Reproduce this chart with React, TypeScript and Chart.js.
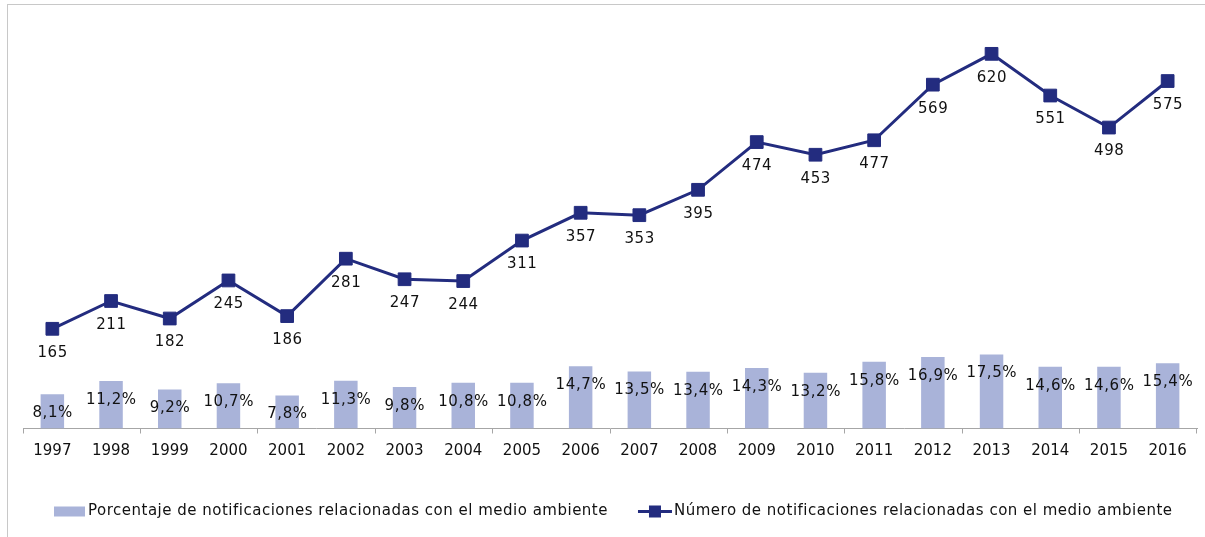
import React, { useEffect, useRef } from "react";
import { Chart, registerables } from "chart.js";

Chart.register(...registerables);

const years = ["1997","1998","1999","2000","2001","2002","2003","2004","2005","2006","2007","2008","2009","2010","2011","2012","2013","2014","2015","2016"];
const percentages = [8.1,11.2,9.2,10.7,7.8,11.3,9.8,10.8,10.8,14.7,13.5,13.4,14.3,13.2,15.8,16.9,17.5,14.6,14.6,15.4];
const counts = [165,211,182,245,186,281,247,244,311,357,353,395,474,453,477,569,620,551,498,575];
const barLabel = "Porcentaje de notificaciones relacionadas con el medio ambiente";
const lineLabel = "Número de notificaciones relacionadas con el medio ambiente";

const FONT = "'DejaVu Sans', Verdana, sans-serif";
const LINE_COLOR = "#232c7f";
const BAR_COLOR = "#a9b3d9";
const TEXT_COLOR = "#111111";

const labelsPlugin = {
  id: "valueLabels",
  afterDatasetsDraw(chart: any) {
    const ctx = chart.ctx;
    ctx.save();
    ctx.font = `15px ${FONT}`;
    try { (ctx as any).letterSpacing = "0.6px"; } catch (e) {}
    ctx.fillStyle = TEXT_COLOR;
    ctx.textAlign = "center";
    ctx.textBaseline = "middle";
    const barMeta = chart.getDatasetMeta(0);
    barMeta.data.forEach((el: any, i: number) => {
      const txt = percentages[i].toFixed(1).replace(".", ",") + "%";
      ctx.fillText(txt, el.x + 0.3, el.y + 19);
    });
    const lineMeta = chart.getDatasetMeta(1);
    lineMeta.data.forEach((el: any, i: number) => {
      ctx.fillText(String(counts[i]), el.x + 0.3, el.y + 24);
    });
    ctx.restore();
  },
};

const legendPlugin = {
  id: "customLegend",
  afterDraw(chart: any) {
    const ctx = chart.ctx;
    ctx.save();
    ctx.font = `15px ${FONT}`;
    try { (ctx as any).letterSpacing = "0.5px"; } catch (e) {}
    ctx.fillStyle = TEXT_COLOR;
    ctx.textAlign = "left";
    ctx.textBaseline = "middle";
    const cy = 511.5;
    // bar item
    ctx.fillStyle = BAR_COLOR;
    ctx.fillRect(54, cy - 5, 31, 10);
    ctx.fillStyle = TEXT_COLOR;
    ctx.fillText(barLabel, 88, cy);
    const w1 = ctx.measureText(barLabel).width;
    // line item
    const x2 = 88 + w1 + 30;
    ctx.strokeStyle = LINE_COLOR;
    ctx.lineWidth = 3;
    ctx.beginPath();
    ctx.moveTo(x2, cy);
    ctx.lineTo(x2 + 34, cy);
    ctx.stroke();
    ctx.fillStyle = LINE_COLOR;
    ctx.fillRect(x2 + 11, cy - 6, 12, 12);
    ctx.fillStyle = TEXT_COLOR;
    ctx.fillText(lineLabel, x2 + 36, cy);
    ctx.restore();
  },
};

export default function App() {
  const ref = useRef<HTMLCanvasElement | null>(null);

  useEffect(() => {
    document.body.style.margin = "0";
    const canvas = ref.current;
    if (!canvas) return;
    const chart = new Chart(canvas, {
      type: "bar",
      data: {
        labels: years,
        datasets: [
          {
            type: "bar",
            label: barLabel,
            data: percentages,
            backgroundColor: BAR_COLOR,
            borderWidth: 0,
            yAxisID: "yB",
            barPercentage: 0.4,
            categoryPercentage: 1,
            order: 2,
          } as any,
          {
            type: "line",
            label: lineLabel,
            data: counts,
            borderColor: LINE_COLOR,
            backgroundColor: LINE_COLOR,
            borderWidth: 3,
            pointStyle: "rect",
            pointRadius: 9,
            pointBorderWidth: 1,
            pointBackgroundColor: LINE_COLOR,
            pointBorderColor: LINE_COLOR,
            tension: 0,
            yAxisID: "yL",
            order: 1,
          } as any,
        ],
      },
      options: {
        responsive: false,
        animation: false,
        layout: { autoPadding: false, padding: { left: 23, right: 8, top: 5.5, bottom: 68.5 } },
        plugins: {
          legend: { display: false },
          tooltip: { enabled: false },
        },
        scales: {
          x: {
            type: "category",
            offset: true,
            afterFit: (scale: any) => {
              scale.height = 40;
            },
            grid: {
              offset: true,
              drawOnChartArea: false,
              drawTicks: true,
              tickLength: 5,
              lineWidth: 1,
              color: (c: any) =>
                c.index === undefined || c.index % 2 === 0 ? "#a6a6a6" : "rgba(0,0,0,0)",
            },
            border: { display: true, color: "#a6a6a6", width: 1 },
            ticks: {
              font: { family: FONT, size: 15 },
              color: TEXT_COLOR,
              padding: 9,
              maxRotation: 0,
              autoSkip: false,
            },
          },
          yB: {
            type: "linear",
            display: false,
            min: 0,
            max: 100,
            position: "left",
          },
          yL: {
            type: "linear",
            display: false,
            min: 0,
            max: 700,
            position: "right",
          },
        },
      } as any,
      plugins: [labelsPlugin, legendPlugin],
    });
    return () => chart.destroy();
  }, []);

  return (
    <div style={{ position: "absolute", left: 0, top: 0, width: 1205, height: 537, background: "#ffffff", overflow: "hidden" }}>
      <canvas ref={ref} width={1205} height={537} style={{ position: "absolute", left: 0, top: 0 }} />
      <div
        style={{
          position: "absolute",
          left: 7,
          top: 4,
          width: 1300,
          height: 600,
          borderLeft: "1px solid #c8c8c8",
          borderTop: "1px solid #c8c8c8",
          pointerEvents: "none",
        }}
      />
    </div>
  );
}
